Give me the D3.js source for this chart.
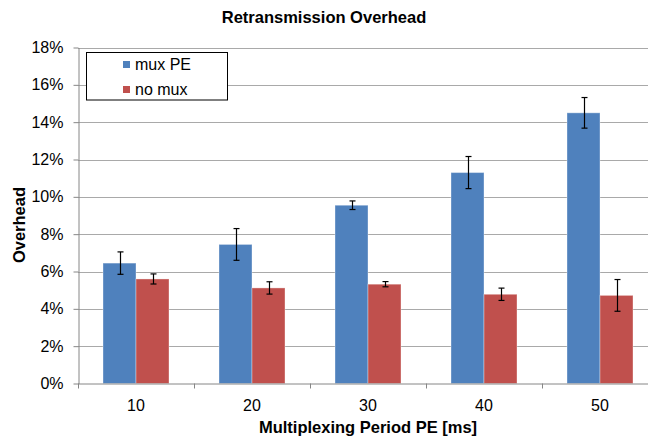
<!DOCTYPE html>
<html>
<head>
<meta charset="utf-8">
<script src="https://cdn.jsdelivr.net/npm/d3@7"></script>
<style>
  html, body { margin: 0; padding: 0; background: #fff; }
  svg { display: block; font-family: "Liberation Sans", Arial, sans-serif; }
</style>
</head>
<body>
<svg id="chart" width="648" height="438"></svg>
<script>
// Multiplexing periods (ms)
const periods = ["10", "20", "30", "40", "50"];
const seriesNames = ["mux PE", "no mux"];
const seriesColors = ["#4f81bd", "#c0504d"];
// Mean retransmission overhead (%) and error half-widths (%)
const muxPE = [6.45, 7.45, 9.55, 11.3, 14.5];
const muxPEErr = [0.6, 0.85, 0.23, 0.86, 0.82];
const noMux = [5.6, 5.12, 5.32, 4.78, 4.72];
const noMuxErr = [0.27, 0.33, 0.14, 0.33, 0.85];
const yTicks = [0, 2, 4, 6, 8, 10, 12, 14, 16, 18];

const svg = d3.select("#chart");
const W = 648, H = 438;
const plotLeft = 78, plotRight = 658, plotTop = 47.5, plotBottom = 383.5;

const x0 = d3.scaleBand().domain(periods).range([plotLeft, plotRight]).paddingInner(0).paddingOuter(0);
const x1 = d3.scaleBand().domain(seriesNames).range([0, 66]);
const y = d3.scaleLinear().domain([0, 18]).range([plotBottom, plotTop]);

// Horizontal gridlines
svg.append("g")
  .selectAll("line")
  .data(yTicks.filter(t => t > 0))
  .join("line")
  .attr("x1", plotLeft).attr("x2", W)
  .attr("y1", d => Math.round(y(d)) + 0.5).attr("y2", d => Math.round(y(d)) + 0.5)
  .attr("stroke", "#a9a9a9").attr("stroke-width", 1);

// Bars
const series = [
  { name: seriesNames[0], vals: muxPE, errs: muxPEErr, color: seriesColors[0] },
  { name: seriesNames[1], vals: noMux, errs: noMuxErr, color: seriesColors[1] }
];

const rows = [];
series.forEach(s => periods.forEach((p, i) => rows.push({ p, s: s.name, v: s.vals[i], e: s.errs[i], color: s.color })));

const groupOffset = (x0.bandwidth() - 66) / 2;

svg.append("g")
  .selectAll("rect")
  .data(rows)
  .join("rect")
  .attr("x", d => x0(d.p) + groupOffset + x1(d.s))
  .attr("y", d => y(d.v))
  .attr("width", x1.bandwidth())
  .attr("height", d => y(0) - y(d.v))
  .attr("fill", d => d.color)
  .attr("stroke", "rgba(255,255,255,0.35)")
  .attr("stroke-width", 1);

// Error bars
const eb = svg.append("g").attr("stroke", "#000").attr("stroke-width", 1.2);
rows.forEach(d => {
  const cx = Math.round(x0(d.p) + groupOffset + x1(d.s) + x1.bandwidth() / 2) + 0.5;
  const yt = y(d.v + d.e), yb = y(d.v - d.e);
  eb.append("line").attr("x1", cx).attr("x2", cx).attr("y1", yt).attr("y2", yb);
  eb.append("line").attr("x1", cx - 3).attr("x2", cx + 3).attr("y1", yt).attr("y2", yt);
  eb.append("line").attr("x1", cx - 3).attr("x2", cx + 3).attr("y1", yb).attr("y2", yb);
});

// Y axis
const yAxis = d3.axisLeft(y).tickValues(yTicks).tickFormat(d => d + "%").tickSize(5).tickSizeOuter(0);
const gy = svg.append("g").attr("transform", `translate(${plotLeft + 0.5},0)`).call(yAxis);
gy.select(".domain").attr("stroke", "#868686");
gy.selectAll(".tick line").attr("stroke", "#868686");
gy.selectAll(".tick text").attr("font-size", 16).attr("fill", "#000").attr("x", -15)
  .attr("font-family", "'Liberation Sans', Arial, sans-serif");

// X axis: ticks at category boundaries
svg.append("line").attr("x1", plotLeft).attr("x2", W)
  .attr("y1", plotBottom + 0.5).attr("y2", plotBottom + 0.5).attr("stroke", "#868686");
const boundaries = periods.map(p => x0(p)).concat([plotRight]);
svg.append("g").selectAll("line").data(boundaries).join("line")
  .attr("x1", d => Math.round(d) + 0.5).attr("x2", d => Math.round(d) + 0.5)
  .attr("y1", plotBottom).attr("y2", plotBottom + 5).attr("stroke", "#868686");
svg.append("g").selectAll("text").data(periods).join("text")
  .attr("x", d => x0(d) + x0.bandwidth() / 2)
  .attr("y", 411)
  .attr("text-anchor", "middle")
  .attr("font-size", 16)
  .text(d => d);

// Titles
svg.append("text").attr("x", 324).attr("y", 23).attr("text-anchor", "middle")
  .attr("font-size", 16.5).attr("font-weight", "bold").text("Retransmission Overhead");
svg.append("text").attr("x", 368).attr("y", 433).attr("text-anchor", "middle")
  .attr("font-size", 16.5).attr("font-weight", "bold").text("Multiplexing Period PE [ms]");
svg.append("text").attr("transform", "translate(25,225) rotate(-90)").attr("text-anchor", "middle")
  .attr("font-size", 16.5).attr("font-weight", "bold").text("Overhead");

// Legend
const lg = svg.append("g");
lg.append("rect").attr("x", 86.5).attr("y", 52.5).attr("width", 141).attr("height", 47.5)
  .attr("fill", "#fff").attr("stroke", "#000").attr("stroke-width", 1);
series.forEach((s, i) => {
  const cy = 64.5 + i * 25;
  lg.append("rect").attr("x", 123).attr("y", cy - 3.5).attr("width", 7).attr("height", 7).attr("fill", s.color);
  lg.append("text").attr("x", 135).attr("y", cy + 5.5).attr("font-size", 16).text(s.name);
});
</script>
</body>
</html>
